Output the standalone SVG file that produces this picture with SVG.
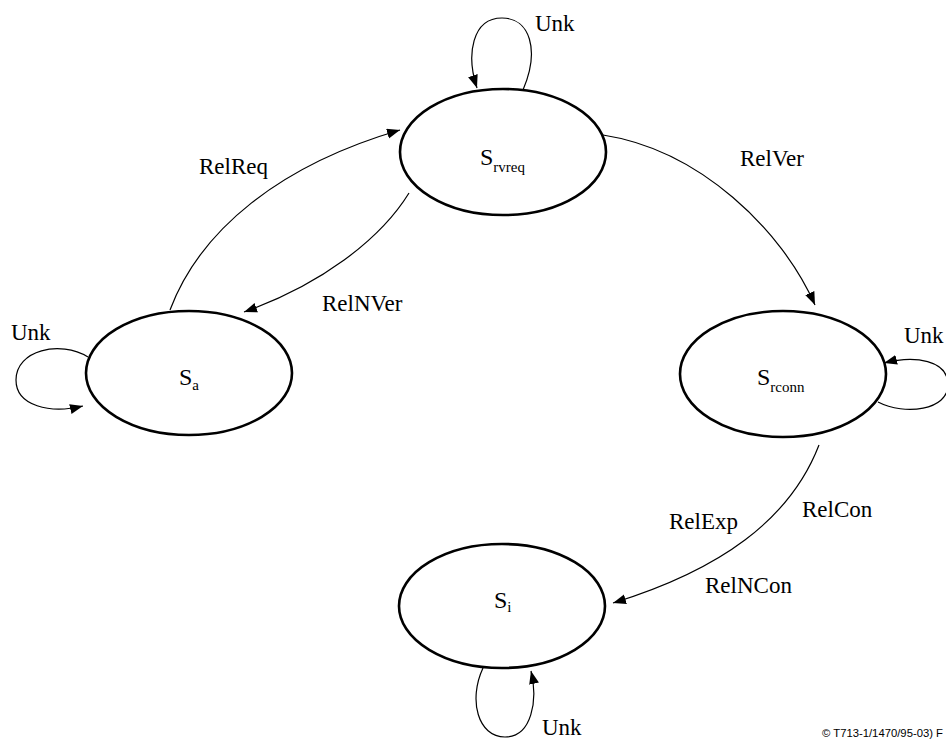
<svg xmlns="http://www.w3.org/2000/svg" width="946" height="740" viewBox="0 0 946 740">
<style>
.node{fill:#fff;stroke:#000;stroke-width:2.6}
.edge{fill:none;stroke:#000;stroke-width:1.2}
.lbl{font-family:"Liberation Serif","Times New Roman",serif;font-size:23px;fill:#000}
.st{font-family:"Liberation Serif","Times New Roman",serif;font-size:24px;fill:#000}
.sub{font-size:15px}
.cp{font-family:"Liberation Sans",Arial,sans-serif;font-size:11px;fill:#000}
</style>
<defs>
<marker id="ah" markerUnits="userSpaceOnUse" markerWidth="14" markerHeight="11" refX="13" refY="5" orient="auto">
<path d="M0,0 L13,5 L0,10 z" fill="#000"/>
</marker>
</defs>
<rect width="946" height="740" fill="#fff"/>
<g id="connectors">
<path class="edge" d="M523,90 C540,50 530,18 502,18 C472,18 466,55 477,88" marker-end="url(#ah)"/>
<path class="edge" d="M88,357 C60,340 16,350 16,380 C16,406 50,414 83,406" marker-end="url(#ah)"/>
<path class="edge" d="M878,402 C905,416 948,410 948,385 C948,360 915,355 884,363" marker-end="url(#ah)"/>
<path class="edge" d="M483,668 C468,700 478,737 505,737 C532,737 538,700 531,671" marker-end="url(#ah)"/>
<path class="edge" d="M170,310 C200,230 280,165 400,130" marker-end="url(#ah)"/>
<path class="edge" d="M409,193 C380,240 320,285 244,312" marker-end="url(#ah)"/>
<path class="edge" d="M603,135 C700,150 782,230 815,305" marker-end="url(#ah)"/>
<path class="edge" d="M819,445 C790,520 720,570 613,603" marker-end="url(#ah)"/>
<text class="lbl" x="535" y="31">Unk</text>
<text class="lbl" x="11" y="340">Unk</text>
<text class="lbl" x="904" y="343">Unk</text>
<text class="lbl" x="542" y="735">Unk</text>
<text class="lbl" x="199" y="174">RelReq</text>
<text class="lbl" x="322" y="311">RelNVer</text>
<text class="lbl" x="740" y="166">RelVer</text>
<text class="lbl" x="802" y="517">RelCon</text>
<text class="lbl" x="669" y="529">RelExp</text>
<text class="lbl" x="705" y="593">RelNCon</text>
</g>
<g id="S_rvreq">
<ellipse class="node" cx="503" cy="152" rx="103" ry="63"/>
<text class="st" x="480" y="165">S<tspan class="sub" dy="7">rvreq</tspan></text>
</g>
<g id="S_a">
<ellipse class="node" cx="189" cy="373" rx="103" ry="62"/>
<text class="st" x="179" y="385">S<tspan class="sub" dy="5">a</tspan></text>
</g>
<g id="S_rconn">
<ellipse class="node" cx="783" cy="374" rx="103" ry="63"/>
<text class="st" x="757" y="385">S<tspan class="sub" dy="7">rconn</tspan></text>
</g>
<g id="S_i">
<ellipse class="node" cx="502" cy="606" rx="103" ry="62"/>
<text class="st" x="494" y="608">S<tspan class="sub" dy="4">i</tspan></text>
</g>
<text class="cp" x="822" y="737" textLength="121" lengthAdjust="spacingAndGlyphs">© T713-1/1470/95-03)  F</text>
</svg>
